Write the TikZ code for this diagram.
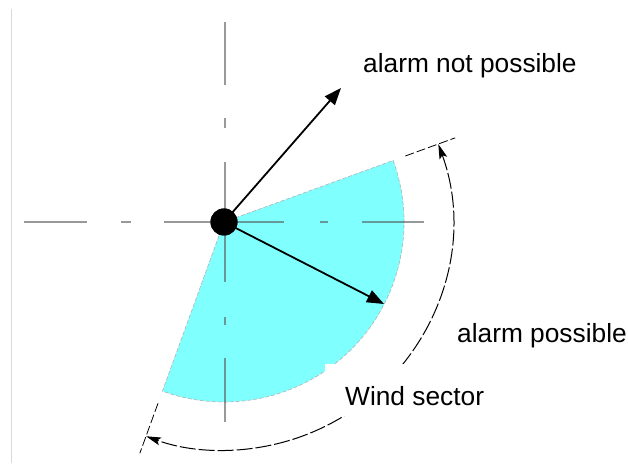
\documentclass[tikz,border=0pt]{standalone}
\usepackage{fontspec}
\setmainfont{Liberation Sans}
\usetikzlibrary{arrows.meta}
\definecolor{sectorcyan}{RGB}{128,255,255}
\definecolor{axisgray}{RGB}{85,85,85}
\tikzset{
  axisline/.style={draw=axisgray, draw opacity=0.6, line width=1.6pt},
  sectoredge/.style={draw=gray!60, line width=0.6pt, dash pattern=on 4pt off 2pt},
  windarrow/.style={draw=black, line width=1.8pt, -{Triangle[length=17pt,width=13pt]}},
  dimline/.style={draw=black, line width=1pt, dash pattern=on 16pt off 3pt},
  dimarrows/.style={{Stealth[length=15pt,width=8pt,inset=3pt]}-{Stealth[length=15pt,width=8pt,inset=3pt]}},
  extline/.style={draw=black, line width=0.8pt, dash pattern=on 9pt off 3pt},
  lbl/.style={anchor=base west, inner sep=0pt, font=\fontsize{26.3}{30}\selectfont},
  hub/.style={circle, fill=black, minimum size=27pt, inner sep=0pt}
}
\begin{document}
\begin{tikzpicture}[x=1pt,y=1pt]
\useasboundingbox (0,0) rectangle (628,465);
% left border line
\draw[draw=black!15, line width=0.8pt] (11.7,2) -- (11.7,456);
\coordinate (c) at (224,243);
% sector
\begin{scope}[shift={(c)}]
  \fill[sectorcyan] (0,0) -- (20:180pt) arc[start angle=20, end angle=-110, radius=180pt] -- cycle;
  \draw[sectoredge] (0,0) -- (20:180pt) arc[start angle=20, end angle=-110, radius=180pt] -- cycle;
\end{scope}
% dash-dot axes
\draw[axisline] (24,243) -- (87,243);
\draw[axisline] (121,243) -- (131,243);
\draw[axisline] (164,243) -- (284,243);
\draw[axisline] (320,243) -- (328,243);
\draw[axisline] (362,243) -- (424,243);
\draw[axisline] (225,443) -- (225,380);
\draw[axisline] (225,347) -- (225,337);
\draw[axisline] (225,303) -- (225,183);
\draw[axisline] (225,148) -- (225,140);
\draw[axisline] (225,107) -- (225,43);
% dimension arc and extension lines
\begin{scope}[shift={(c)}]
  \coordinate (e1a) at (20:193pt);
  \coordinate (e1b) at (20:246pt);
  \coordinate (e2a) at (-110:193pt);
  \coordinate (e2b) at (-110:246pt);
  \coordinate (d1) at (20:228pt);
\end{scope}
\draw[extline] (e1a) -- (e1b);
\draw[extline] (e2a) -- (e2b);
\draw[dimline, dimarrows] (d1) arc[start angle=20, end angle=-110, radius=228pt];
% white mask behind "Wind sector"
\fill[white] (325,49) rectangle (500,101);
% hub and arrows
\node[hub] (hub) at (c) {};
\coordinate (tipnot) at (341,377);
\coordinate (tipyes) at (384,161);
\draw[windarrow] (hub.center) -- (tipnot);
\draw[windarrow] (hub.center) -- (tipyes);
\node[hub] at (c) {};
% labels
\node[lbl] (notposs) at (363,392) {alarm not possible};
\node[lbl] (poss) at (457,122) {alarm possible};
\node[lbl] (sector) at (345,59) {Wind sector};
\end{tikzpicture}
\end{document}
